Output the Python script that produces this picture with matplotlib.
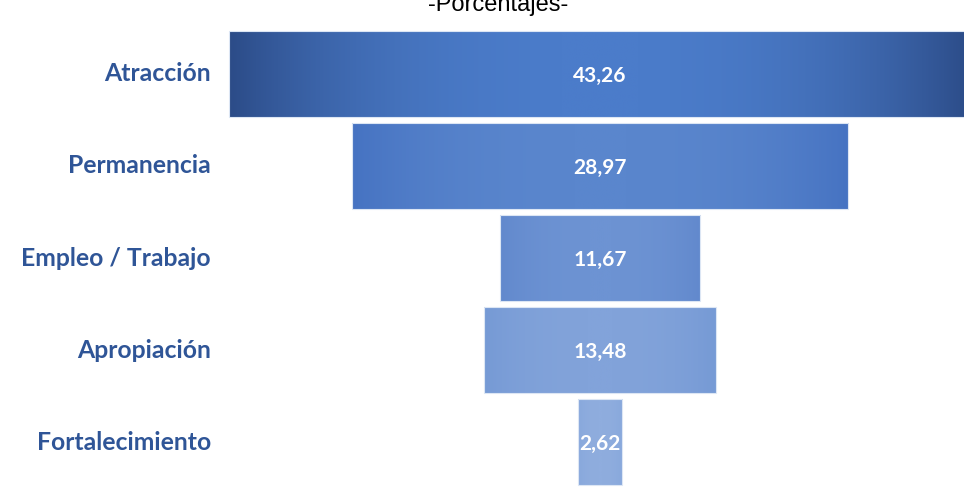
import numpy as np
import matplotlib.pyplot as plt
from matplotlib.colors import LinearSegmentedColormap

categorias = ['Atracción', 'Permanencia', 'Empleo / Trabajo', 'Apropiación', 'Fortalecimiento']
valores = [43.26, 28.97, 11.67, 13.48, 2.62]
etiquetas = ['43,26', '28,97', '11,67', '13,48', '2,62']
titulo = '-Porcentajes-'

# color del centro y del borde de cada barra (degradado)
col_centro = ['#4b7cca', '#5a86cd', '#6d93d3', '#82a3da', '#8fadde']
col_borde = ['#2c4c88', '#4673c2', '#6289cd', '#769ad5', '#88a8dc']

esc = 17.15  # px por unidad
fig = plt.figure(figsize=(9.64, 5.04), dpi=100)
ax = fig.add_axes([0, 0, 1, 1])

pos = np.arange(len(valores))
barras = ax.barh(pos, valores, left=[-v / 2 for v in valores], height=0.935,
                 color='none', edgecolor='#dce6f4', linewidth=0.8, zorder=3)

x = np.linspace(-1, 1, 300)
for i, b in enumerate(barras):
    cmap = LinearSegmentedColormap.from_list('g%d' % i, [col_centro[i], col_borde[i]])
    grad = np.abs(x) ** 2.5
    bx, by = b.get_x(), b.get_y()
    im = ax.imshow(grad.reshape(1, -1), cmap=cmap, vmin=0, vmax=1, aspect='auto',
                   extent=[bx, bx + b.get_width(), by + b.get_height(), by], zorder=2)
    im.set_clip_path(b)
    ax.text(0, pos[i] + 0.02, etiquetas[i], ha='center', va='center', color='white',
            fontsize=15, fontweight='bold', family='Lato', zorder=4)
    ax.text((211 - 600) / esc, pos[i], categorias[i], ha='right', va='center', color='#2f5597',
            fontsize=17.8, fontweight='bold', family='Lato', zorder=4)

ax.set_xlim(-600 / esc, 364 / esc)
ax.set_ylim(430 / 92, -74 / 92)
ax.axis('off')

fig.text(498 / 964, 1 - 11 / 504, titulo, ha='center', va='baseline', fontsize=17,
         family='Liberation Sans', color='black')

fig.savefig('out.png', dpi=100, facecolor='white')
